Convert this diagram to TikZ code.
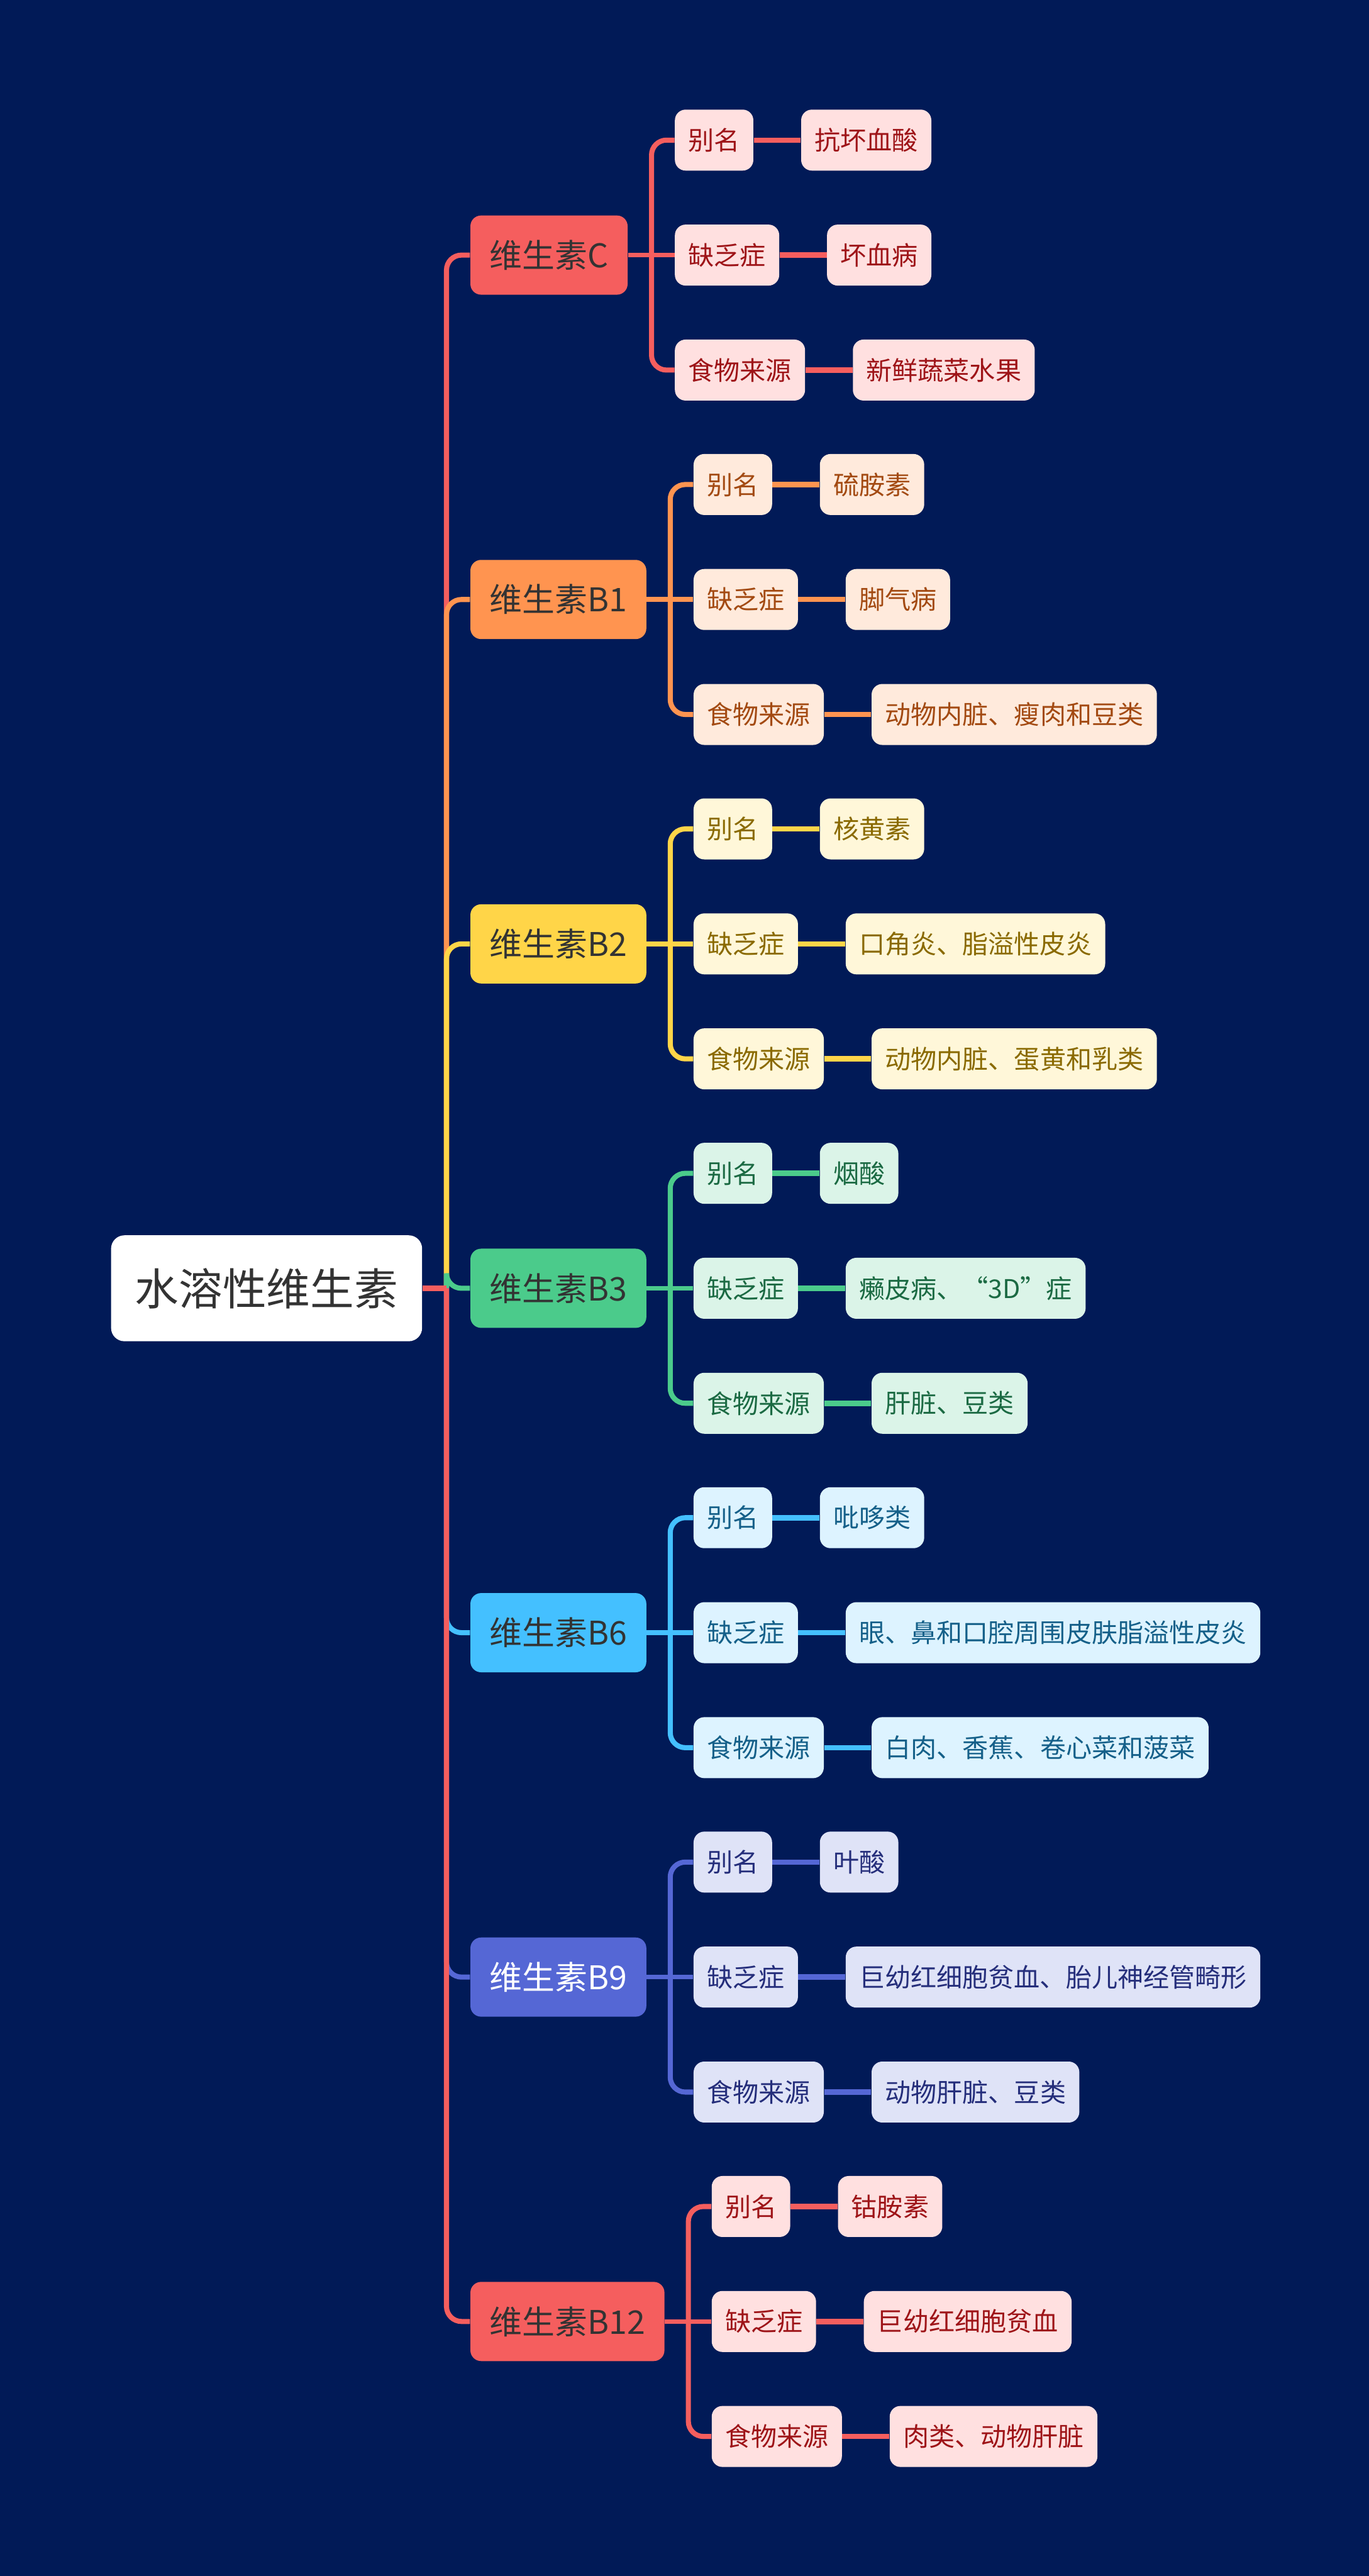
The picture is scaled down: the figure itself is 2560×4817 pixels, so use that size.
\documentclass[tikz,border=0pt]{standalone}
\usepackage{fontspec}
\setmainfont{Noto Sans CJK SC}
\usetikzlibrary{calc}
\definecolor{bgc}{HTML}{011A57}
\definecolor{rM}{HTML}{F55E5E}\definecolor{rL}{HTML}{FFE0E0}\definecolor{rT}{HTML}{9E1418}\definecolor{rX}{HTML}{333333}
\definecolor{oM}{HTML}{FF9450}\definecolor{oL}{HTML}{FFEADC}\definecolor{oT}{HTML}{A34A12}\definecolor{oX}{HTML}{333333}
\definecolor{yM}{HTML}{FFD548}\definecolor{yL}{HTML}{FFF7D9}\definecolor{yT}{HTML}{8A6A00}\definecolor{yX}{HTML}{333333}
\definecolor{gM}{HTML}{4BCB8B}\definecolor{gL}{HTML}{DBF4E8}\definecolor{gT}{HTML}{1B6A43}\definecolor{gX}{HTML}{333333}
\definecolor{bM}{HTML}{44C0FF}\definecolor{bL}{HTML}{DDF3FF}\definecolor{bT}{HTML}{156089}\definecolor{bX}{HTML}{333333}
\definecolor{pM}{HTML}{5567D5}\definecolor{pL}{HTML}{DFE3F7}\definecolor{pT}{HTML}{252E7B}\definecolor{pX}{HTML}{FFFFFF}
\tikzset{
  rootbox/.style={anchor=west, fill=white, text=rX, rounded corners=0.25cm, minimum height=1.98cm, inner xsep=0.45cm, inner ysep=0pt, font=\fontsize{23.3pt}{28pt}\selectfont},
  lone/.style={anchor=west, rounded corners=0.2cm, minimum height=1.48cm, inner xsep=0.36cm, inner ysep=0pt, font=\fontsize{17.35pt}{21pt}\selectfont},
  ltwo/.style={anchor=west, rounded corners=0.2cm, minimum height=1.14cm, inner xsep=0.25cm, inner ysep=0pt, font=\fontsize{13.75pt}{17pt}\selectfont},
  trunkline/.style={line width=2.7pt, rounded corners=0.28cm},
  vline/.style={line width=2.7pt, rounded corners=0.28cm},
  hline/.style={line width=2.5pt},
  leafline/.style={line width=2.85pt},
}
\newcommand\vbranch[7]{%
  \node[lone, fill=#4M, text=#4X] (#1) at (879,#2) {#3};
  \draw[trunkline, draw=#4M] (hub) |- (#1.west);
  \node[ltwo, fill=#4L, text=#4T] (#1a) at ($(#1.east)+(87,-215)$) {别名};
  \node[ltwo, fill=#4L, text=#4T] (#1b) at ($(#1.east)+(87,0)$) {缺乏症};
  \node[ltwo, fill=#4L, text=#4T] (#1c) at ($(#1.east)+(87,215)$) {食物来源};
  \node[ltwo, fill=#4L, text=#4T] (#1aa) at ($(#1a.east)+(88,0)$) {#5};
  \node[ltwo, fill=#4L, text=#4T] (#1bb) at ($(#1b.east)+(88,0)$) {#6};
  \node[ltwo, fill=#4L, text=#4T] (#1cc) at ($(#1c.east)+(88,0)$) {#7};
  \coordinate (#1v) at ($(#1.east)+(44,0)$);
  \draw[hline, draw=#4M] (#1.east) -- (#1b.west);
  \draw[vline, draw=#4M] (#1a.west) -| (#1v) |- (#1c.west);
  \draw[leafline, draw=#4M] (#1a.east) -- (#1aa.west);
  \draw[leafline, draw=#4M] (#1b.east) -- (#1bb.west);
  \draw[leafline, draw=#4M] (#1c.east) -- (#1cc.west);
}
\begin{document}
\begin{tikzpicture}[x=0.01cm, y=-0.01cm]
  \fill[bgc] (0,0) rectangle (2560,4817);
  \useasboundingbox (0,0) rectangle (2560,4817);
  \coordinate (hub) at (835,2409);
  \node[rootbox] (root) at (207,2409) {水溶性维生素};
  \vbranch{vc}{477}{维生素C}{r}{抗坏血酸}{坏血病}{新鲜蔬菜水果}
  \vbranch{vbone}{1121}{维生素B1}{o}{硫胺素}{脚气病}{动物内脏、瘦肉和豆类}
  \vbranch{vbtwo}{1765}{维生素B2}{y}{核黄素}{口角炎、脂溢性皮炎}{动物内脏、蛋黄和乳类}
  \vbranch{vbthree}{2409}{维生素B3}{g}{烟酸}{癞皮病、“3D”症}{肝脏、豆类}
  \vbranch{vbsix}{3053}{维生素B6}{b}{吡哆类}{眼、鼻和口腔周围皮肤脂溢性皮炎}{白肉、香蕉、卷心菜和菠菜}
  \vbranch{vbnine}{3697}{维生素B9}{p}{叶酸}{巨幼红细胞贫血、胎儿神经管畸形}{动物肝脏、豆类}
  \vbranch{vbtwelve}{4341}{维生素B12}{r}{钴胺素}{巨幼红细胞贫血}{肉类、动物肝脏}
  \draw[leafline, draw=rM] (root.east) -- (hub);
\end{tikzpicture}
\end{document}
